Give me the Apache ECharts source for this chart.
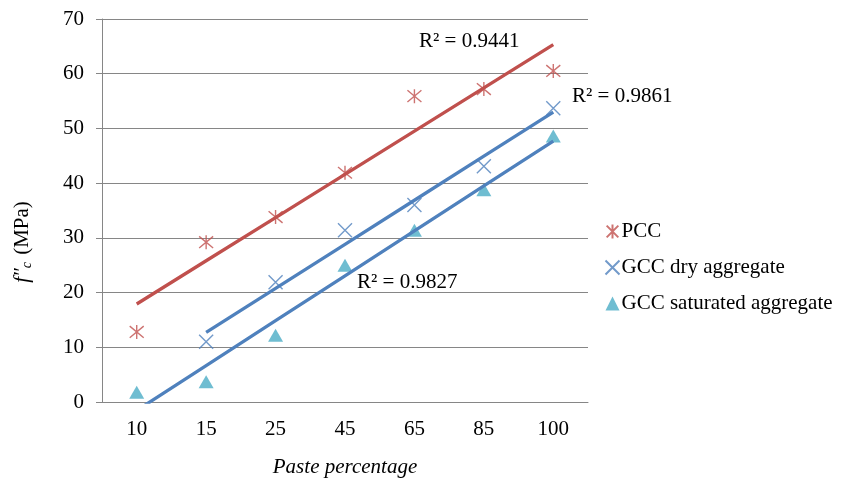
<!DOCTYPE html>
<html>
<head>
<meta charset="utf-8">
<script src="https://cdn.jsdelivr.net/npm/echarts@6/dist/echarts.min.js"></script>
<style>
  html, body { margin: 0; padding: 0; background: #fff; }
  #main { width: 845px; height: 480px; }
</style>
</head>
<body>
<div id="main"></div>
<script>
// 数据
const categories = ['10', '15', '25', '45', '65', '85', '100']
const pccData = [12.8, 29.2, 33.8, 41.9, 55.9, 57.2, 60.5]
const gccDryData = [null, 11.0, 21.9, 31.4, 36.0, 43.1, 53.7]
const gccSatData = [1.8, 3.7, 12.2, 25.0, 31.4, 38.8, 48.6]
const r2Labels = ['R² = 0.9441', 'R² = 0.9861', 'R² = 0.9827']

const FONT = '"Liberation Serif", "Times New Roman", serif'
const FS = 21
const RED = '#c0504d', BLUE = '#4f81bd', CYAN = '#4bacc6'

// 线性趋势线 (同 Excel, x = 1..n)
function trend(arr) {
  const pts = []
  arr.forEach((v, i) => { if (v != null) pts.push([i + 1, v]) })
  const n = pts.length
  const mx = pts.reduce((s, p) => s + p[0], 0) / n
  const my = pts.reduce((s, p) => s + p[1], 0) / n
  let sxy = 0, sxx = 0
  pts.forEach(p => { sxy += (p[0] - mx) * (p[1] - my); sxx += (p[0] - mx) * (p[0] - mx) })
  const k = sxy / sxx, b = my - k * mx
  return arr.map((v, i) => v == null ? null : +(k * (i + 1) + b).toFixed(3))
}

const ASTERISK = 'path://M0,0L10,10M10,0L0,10M5,-1L5,11'
const CROSS = 'path://M0,0L10,10M10,0L0,10'

const myChart = echarts.init(document.getElementById('main'))
myChart.setOption({
  animation: false,
  textStyle: { fontFamily: FONT },
  grid: { left: 102, right: 257, top: 19, bottom: 78, containLabel: false, outerBoundsMode: 'none' },
  legend: {
    orient: 'vertical',
    left: 598,
    top: 216,
    itemWidth: 14,
    itemHeight: 14,
    itemGap: 15,
    textStyle: { fontFamily: FONT, fontSize: FS, color: '#000', padding: [0, 0, 0, -3] },
    data: ['PCC', 'GCC dry aggregate', 'GCC saturated aggregate']
  },
  xAxis: {
    type: 'category',
    data: categories,
    name: 'Paste percentage',
    nameLocation: 'middle',
    nameGap: 55,
    nameTextStyle: { fontFamily: FONT, fontSize: FS, fontStyle: 'italic', color: '#000' },
    axisLine: { lineStyle: { color: '#868686' } },
    axisTick: { show: false },
    axisLabel: { fontFamily: FONT, fontSize: FS, color: '#000', margin: 17 }
  },
  yAxis: {
    type: 'value',
    min: 0,
    max: 70,
    interval: 10,
    axisLine: { show: true, lineStyle: { color: '#868686' } },
    axisTick: { show: true, length: 6, lineStyle: { color: '#868686' } },
    splitLine: { lineStyle: { color: '#868686' } },
    axisLabel: { fontFamily: FONT, fontSize: FS, color: '#000', margin: 18 }
  },
  series: [
    {
      name: 'PCC', type: 'scatter', data: pccData,
      symbol: ASTERISK, symbolSize: 14,
      itemStyle: { color: 'none', borderColor: RED, borderWidth: 1.4 }
    },
    {
      name: 'GCC dry aggregate', type: 'scatter', data: gccDryData,
      symbol: CROSS, symbolSize: 14,
      itemStyle: { color: 'none', borderColor: BLUE, borderWidth: 1.4 }
    },
    {
      name: 'GCC saturated aggregate', type: 'scatter', data: gccSatData,
      symbol: 'triangle', symbolSize: [15, 13],
      itemStyle: { color: CYAN }
    },
    {
      name: 'PCC trend', type: 'line', data: trend(pccData), z: 5,
      showSymbol: false, silent: true, clip: true,
      lineStyle: { color: RED, width: 3.3 }
    },
    {
      name: 'dry trend', type: 'line', data: trend(gccDryData), z: 5,
      showSymbol: false, silent: true, clip: true,
      lineStyle: { color: BLUE, width: 3.3 }
    },
    {
      name: 'sat trend', type: 'line', data: trend(gccSatData), z: 5,
      showSymbol: false, silent: true, clip: true,
      lineStyle: { color: BLUE, width: 3.3 }
    }
  ],
  graphic: [
    { type: 'text', left: 419, top: 31, style: { text: r2Labels[0], font: FS + 'px ' + FONT, fill: '#000' } },
    { type: 'text', left: 572, top: 86, style: { text: r2Labels[1], font: FS + 'px ' + FONT, fill: '#000' } },
    { type: 'text', left: 357, top: 272, style: { text: r2Labels[2], font: FS + 'px ' + FONT, fill: '#000' } },
    {
      type: 'text', x: 22, y: 242, rotation: Math.PI / 2,
      style: {
        text: '{i|f″}{s|c} (MPa)', align: 'center', verticalAlign: 'middle',
        font: FS + 'px ' + FONT, fill: '#000',
        rich: {
          i: { fontFamily: FONT, fontSize: FS, fontStyle: 'italic', fill: '#000' },
          s: { fontFamily: FONT, fontSize: 14, fontStyle: 'italic', fill: '#000', padding: [10, 2, 0, 0] }
        }
      }
    }
  ]
})
</script>
</body>
</html>
